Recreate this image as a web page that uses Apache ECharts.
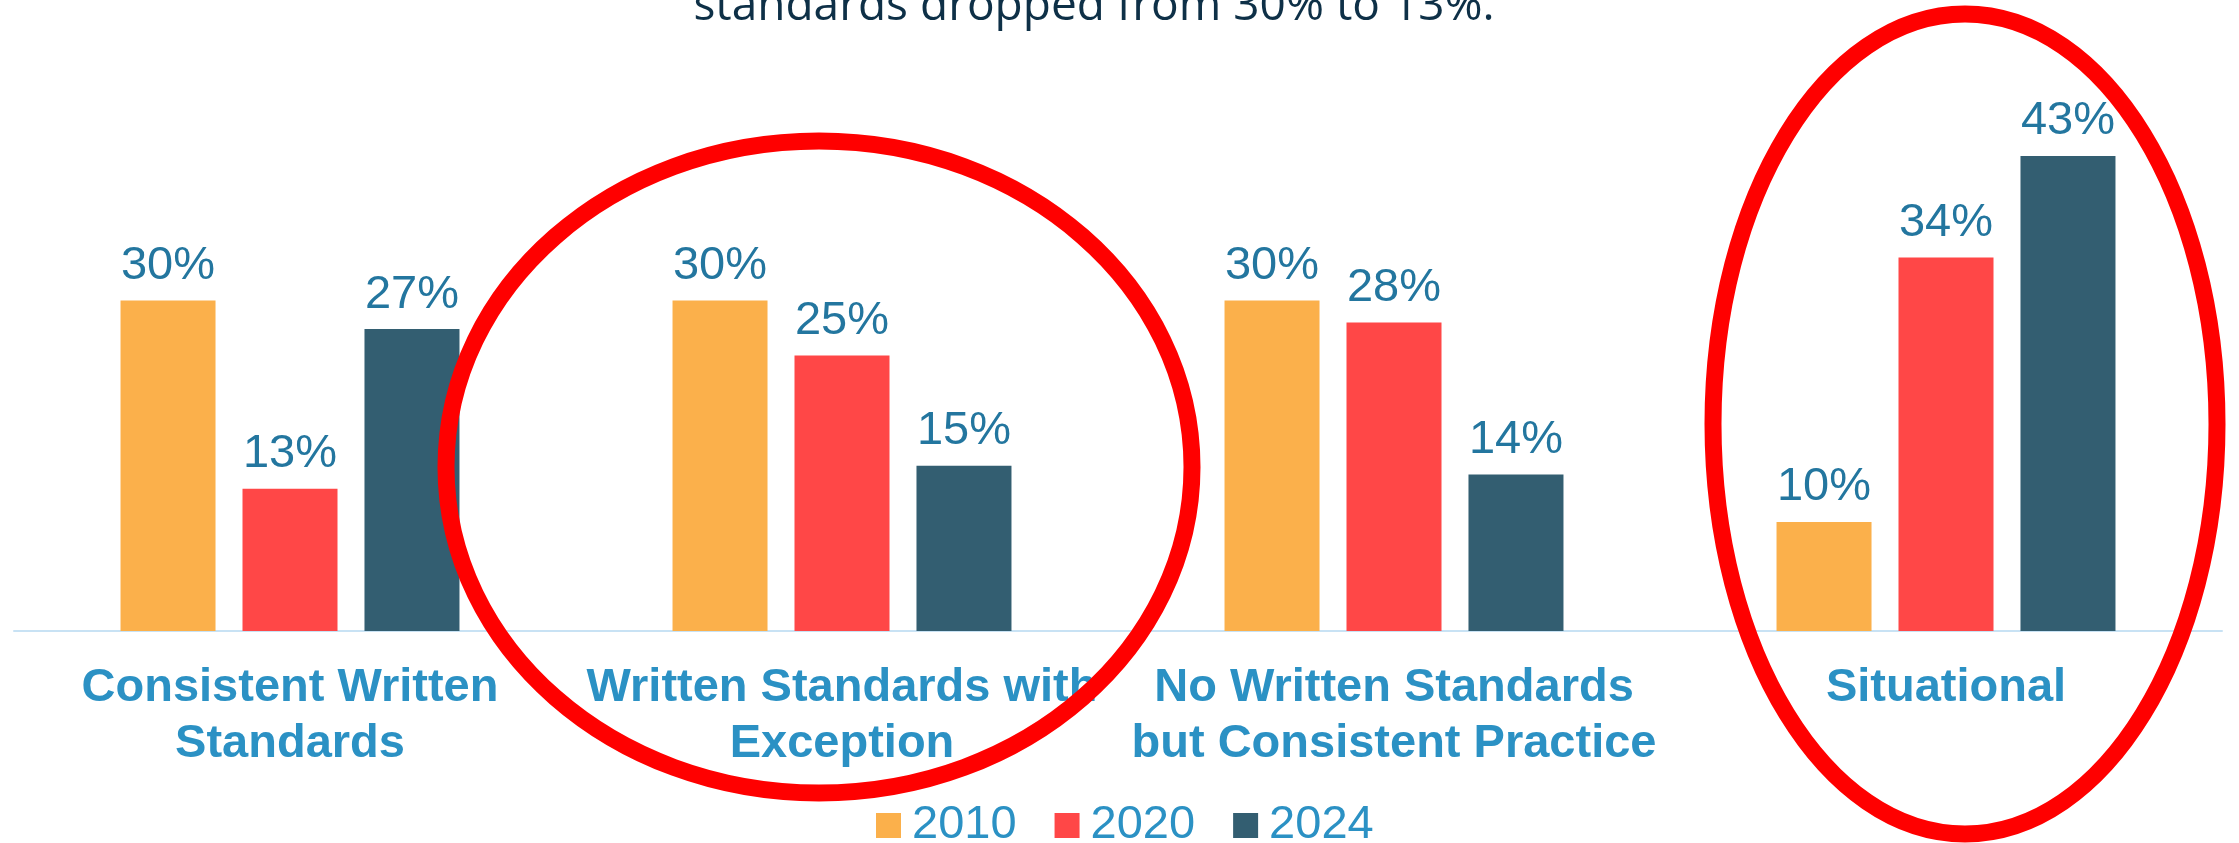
<!DOCTYPE html>
<html>
<head>
<meta charset="utf-8">
<script src="https://cdn.jsdelivr.net/npm/echarts@6/dist/echarts.min.js"></script>
<style>
    html, body { margin: 0; padding: 0; background: #fff; }
    #chart { width: 2239px; height: 843px; }
</style>
</head>
<body>
<div id="chart"></div>
<script>
// data
const categories = [
    'Consistent Written\nStandards',
    'Written Standards with\nException',
    'No Written Standards\nbut Consistent Practice',
    'Situational'
]
const years = ['2010', '2020', '2024']
const v2010 = [30, 30, 30, 9.9]
const v2020 = [12.9, 25, 28, 33.9]
const v2024 = [27.4, 15, 14.2, 43.1]
const colors = ['#fbb04b', '#ff4747', '#335e71']

const labelBlue = '#23769f'
const catBlue = '#2b91c4'
const font = '"Liberation Sans", Arial, sans-serif'

let chart = echarts.init(document.getElementById('chart'))

function barSeries(name, data, color) {
    return {
        name: name,
        type: 'bar',
        data: data,
        barWidth: 95,
        barGap: '28.4%',
        itemStyle: { color: color },
        label: {
            show: true,
            position: 'top',
            distance: 11,
            fontFamily: font,
            fontSize: 47,
            color: labelBlue,
            formatter: p => Math.round(p.value) + '%'
        }
    }
}

let option = {
    animation: false,
    color: colors,
    grid: { left: 14, right: 17, top: 80, bottom: 212 },
    legend: {
        data: years,
        left: 871,
        top: 797,
        itemWidth: 25,
        itemHeight: 25,
        itemGap: 38,
        icon: 'rect',
        textStyle: {
            fontFamily: font,
            fontSize: 47,
            color: catBlue,
            padding: [0, 0, 0, 6]
        }
    },
    xAxis: {
        type: 'category',
        data: categories,
        axisTick: { show: false },
        axisLine: { lineStyle: { color: '#c8e2f4', width: 2 } },
        axisLabel: {
            interval: 0,
            margin: 29,
            fontFamily: font,
            fontSize: 47,
            fontWeight: 'bold',
            lineHeight: 56,
            color: catBlue
        }
    },
    yAxis: {
        type: 'value',
        min: 0,
        max: 50,
        show: false,
        splitLine: { show: false }
    },
    series: [
        barSeries(years[0], v2010, colors[0]),
        barSeries(years[1], v2020, colors[1]),
        barSeries(years[2], v2024, colors[2])
    ],
    graphic: [
        {
            // last line of the heading, cut off at the top
            type: 'text',
            z: 100,
            style: {
                text: 'standards dropped from 30% to 13%.',
                x: 1094,
                y: 7,
                align: 'center',
                verticalAlign: 'middle',
                font: '46px "Open Sans", sans-serif',
                fill: '#0e3047'
            }
        },
        {
            type: 'ellipse',
            z: 100,
            shape: { cx: 819, cy: 467, rx: 373, ry: 326 },
            style: { fill: 'none', stroke: '#ff0000', lineWidth: 17 }
        },
        {
            type: 'ellipse',
            z: 100,
            shape: { cx: 1965, cy: 424, rx: 252, ry: 410 },
            style: { fill: 'none', stroke: '#ff0000', lineWidth: 17 }
        }
    ]
}

chart.setOption(option)
</script>
</body>
</html>
